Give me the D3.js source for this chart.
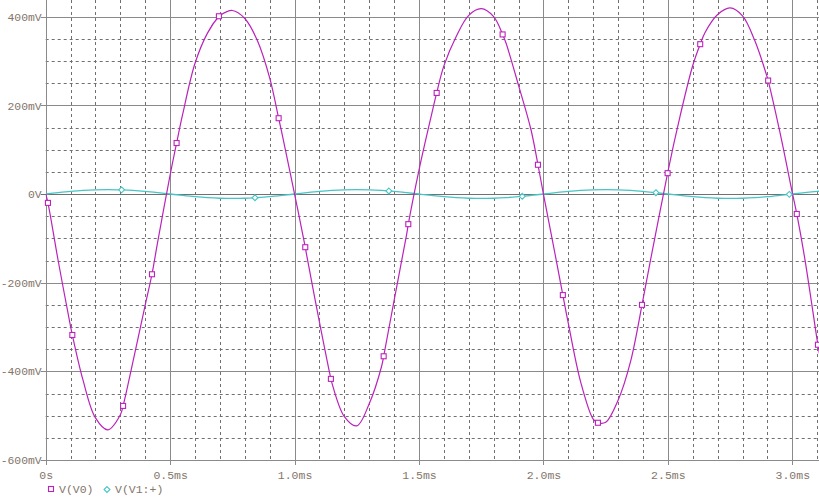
<!DOCTYPE html>
<html>
<head>
<meta charset="utf-8">
<script src="https://cdn.jsdelivr.net/npm/d3@7"></script>
<style>
  html, body { margin: 0; padding: 0; background: #ffffff; }
  svg { display: block; }
  text { font-family: "Liberation Mono", "DejaVu Sans Mono", monospace; fill: #84756a; }
</style>
</head>
<body>
<svg id="chart" width="819" height="500"></svg>
<script>
// ---------- data ----------
const timeMs = [
  0.00, 0.05, 0.10, 0.15, 0.20, 0.25, 0.30, 0.35, 0.40, 0.45,
  0.50, 0.55, 0.60, 0.65, 0.70, 0.75, 0.80, 0.85, 0.90, 0.95,
  1.00, 1.05, 1.10, 1.15, 1.20, 1.25, 1.30, 1.35, 1.40, 1.45,
  1.50, 1.55, 1.60, 1.65, 1.70, 1.75, 1.80, 1.85, 1.90, 1.95,
  2.00, 2.05, 2.10, 2.15, 2.20, 2.25, 2.30, 2.35, 2.40, 2.45,
  2.50, 2.55, 2.60, 2.65, 2.70, 2.75, 2.80, 2.85, 2.90, 2.95,
  3.00, 3.05, 3.10, 3.12
];
// V(V0) in mV
const v0 = [
  0, -150, -299, -420, -505, -532, -498, -380, -250, -108,
  43, 179, 295, 363, 403, 414, 396, 347, 262, 135,
  0, -142, -289, -426, -502, -523, -473, -388, -240, -92,
  54, 178, 289, 356, 403, 418, 400, 340, 245, 145,
  0, -145, -292, -425, -508, -515, -465, -378, -238, -92,
  50, 178, 290, 365, 405, 420, 402, 345, 262, 140,
  3, -145, -330, -395
];
// V(V1:+) in mV
const v1 = [
  0, 3.1, 5.9, 8.1, 9.5, 10, 9.5, 8.1, 5.9, 3.1,
  0, -3.1, -5.9, -8.1, -9.5, -10, -9.5, -8.1, -5.9, -3.1,
  0, 3.1, 5.9, 8.1, 9.5, 10, 9.5, 8.1, 5.9, 3.1,
  0, -3.1, -5.9, -8.1, -9.5, -10, -9.5, -8.1, -5.9, -3.1,
  0, 3.1, 5.9, 8.1, 9.5, 10, 9.5, 8.1, 5.9, 3.1,
  0, -3.1, -5.9, -8.1, -9.5, -10, -9.5, -8.1, -5.9, -3.1,
  0, 3.1, 5.9, 6.8
];
// marker positions on V(V0) (squares)
const v0MarkT = [0.009, 0.107, 0.311, 0.427, 0.526, 0.696, 0.936, 1.043, 1.146, 1.358, 1.457,
                 1.571, 1.836, 1.978, 2.078, 2.219, 2.396, 2.499, 2.630, 2.903, 3.018, 3.103];
const v0MarkV = [-20, -318, -478, -181, 115, 401, 171, -120, -417, -366, -68,
                 228, 360, 66, -228, -516, -250, 47, 338, 256, -45, -340];
// marker positions on V(V1:+) (diamonds)
const v1MarkT = [0.305, 0.841, 1.379, 1.915, 2.452, 2.988];
const v1MarkV = [9.4, -8.4, 6.9, -5.1, 3.0, -0.8];

const xMajorTicks = [0, 0.5, 1.0, 1.5, 2.0, 2.5, 3.0];
const xTickLabels = ["0s", "0.5ms", "1.0ms", "1.5ms", "2.0ms", "2.5ms", "3.0ms"];
const yMajorTicks = [400, 200, 0, -200, -400, -600];
const yTickLabels = ["400mV", "200mV", "0V", "-200mV", "-400mV", "-600mV"];
const legendNames = ["V(V0)", "V(V1:+)"];

// ---------- chart ----------
const W = 819, H = 500;
const svg = d3.select("#chart");
const x = d3.scaleLinear().domain([0, 3.0]).range([45.7, 792.3]);
const y = d3.scaleLinear().domain([-600, 400]).range([460, 16.7]);
const plotLeft = x(0), plotRight = W, plotTop = 0, plotBottom = y(-600);

const MAG = "#bb22bb", CYAN = "#48c4c4";

svg.append("defs").append("clipPath").attr("id", "clip")
  .append("rect").attr("x", plotLeft).attr("y", plotTop)
  .attr("width", plotRight - plotLeft).attr("height", plotBottom - plotTop);

const grid = svg.append("g");
// minor vertical
const xMinor = d3.range(1, 32).map(i => i / 10).filter(t => Math.abs(t * 2 - Math.round(t * 2)) > 1e-6);
grid.selectAll(".vminor").data(xMinor).join("line")
  .attr("x1", d => Math.round(x(d)) + 0.5).attr("x2", d => Math.round(x(d)) + 0.5)
  .attr("y1", plotTop).attr("y2", plotBottom)
  .attr("stroke", "#707070").attr("stroke-width", 1).attr("stroke-dasharray", "3,3");
// minor horizontal
const yMinor = d3.range(-11, 10).map(i => i * 50).filter(v => v % 200 !== 0);
grid.selectAll(".hminor").data(yMinor).join("line")
  .attr("x1", plotLeft).attr("x2", plotRight)
  .attr("y1", d => Math.round(y(d)) + 0.5).attr("y2", d => Math.round(y(d)) + 0.5)
  .attr("stroke", "#707070").attr("stroke-width", 1).attr("stroke-dasharray", "3,3");
// major vertical
grid.selectAll(".vmajor").data(xMajorTicks).join("line")
  .attr("x1", d => Math.round(x(d)) + 0.5).attr("x2", d => Math.round(x(d)) + 0.5)
  .attr("y1", plotTop).attr("y2", plotBottom + 5)
  .attr("stroke", "#8a8a8a").attr("stroke-width", 1);
// major horizontal
grid.selectAll(".hmajor").data(yMajorTicks).join("line")
  .attr("x1", plotLeft - 5).attr("x2", plotRight)
  .attr("y1", d => Math.round(y(d)) + 0.5).attr("y2", d => Math.round(y(d)) + 0.5)
  .attr("stroke", d => d === 0 ? "#707070" : "#8a8a8a").attr("stroke-width", 1);

// axes labels via d3 axes
const xAxis = d3.axisBottom(x).tickValues(xMajorTicks)
  .tickFormat((d, i) => xTickLabels[i]).tickSize(0).tickPadding(11);
const gx = svg.append("g").attr("transform", `translate(0,${plotBottom})`).call(xAxis);
gx.select(".domain").remove();
gx.selectAll("text").style("font-size", "11.5px").attr("fill", "#84756a");

const yAxis = d3.axisLeft(y).tickValues(yMajorTicks)
  .tickFormat((d, i) => yTickLabels[i]).tickSize(0).tickPadding(4);
const gy = svg.append("g").attr("transform", `translate(${plotLeft},0)`).call(yAxis);
gy.select(".domain").remove();
gy.selectAll("text").style("font-size", "11.4px").attr("fill", "#84756a");

// series
const plot = svg.append("g").attr("clip-path", "url(#clip)");
function buildSeries(ts, vs, mt, mv) {
  const pts = ts.map((t, i) => ({ t, v: vs[i] }));
  mt.forEach((t, i) => pts.push({ t, v: mv[i] }));
  pts.sort((a, b) => a.t - b.t);
  return pts;
}
const s0 = buildSeries(timeMs, v0, v0MarkT, v0MarkV);
const s1 = buildSeries(timeMs, v1, v1MarkT, v1MarkV);
const line = d3.line().x(d => x(d.t)).y(d => y(d.v)).curve(d3.curveCatmullRom.alpha(0.5));

plot.append("path").datum(s1).attr("d", line)
  .attr("fill", "none").attr("stroke", CYAN).attr("stroke-width", 1.3);
plot.append("path").datum(s0).attr("d", line)
  .attr("fill", "none").attr("stroke", MAG).attr("stroke-width", 1.2);

const markersLayer = svg.append("g");
markersLayer.selectAll(".sq").data(v0MarkT.map((t, i) => ({ t, v: v0MarkV[i] }))).join("rect")
  .attr("x", d => x(d.t) - 2.5).attr("y", d => y(d.v) - 2.5)
  .attr("width", 5).attr("height", 5)
  .attr("fill", "#fff").attr("stroke", MAG).attr("stroke-width", 1.1);
const diamond = d3.symbol().type(d3.symbolDiamond2).size(22);
markersLayer.selectAll(".dm").data(v1MarkT.map((t, i) => ({ t, v: v1MarkV[i] }))).join("path")
  .attr("d", diamond)
  .attr("transform", d => `translate(${x(d.t)},${y(d.v)})`)
  .attr("fill", "#fff").attr("stroke", CYAN).attr("stroke-width", 1.1);

// legend
const lg = svg.append("g").attr("transform", "translate(0,489)");
lg.append("rect").attr("x", 48.5).attr("y", -2.5).attr("width", 5).attr("height", 5)
  .attr("fill", "#fff").attr("stroke", MAG).attr("stroke-width", 1.1);
lg.append("text").attr("x", 59).attr("y", 0).attr("dy", "0.35em")
  .style("font-size", "11.5px").text(legendNames[0]);
lg.append("path").attr("d", diamond).attr("transform", "translate(107,0.5)")
  .attr("fill", "#fff").attr("stroke", CYAN).attr("stroke-width", 1.1);
lg.append("text").attr("x", 115).attr("y", 0).attr("dy", "0.35em")
  .style("font-size", "11.5px").text(legendNames[1]);
</script>
</body>
</html>
